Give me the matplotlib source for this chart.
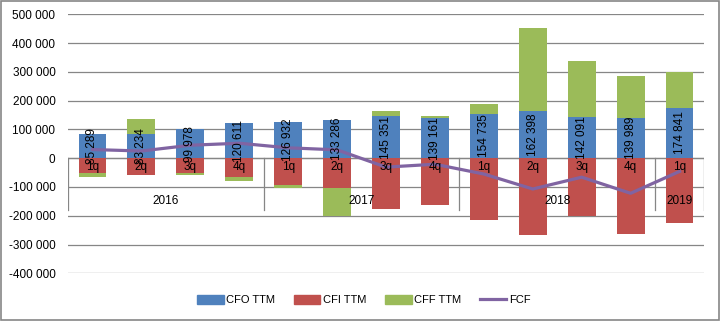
import matplotlib.pyplot as plt
import numpy as np
from matplotlib.patches import Rectangle
from matplotlib.lines import Line2D
from matplotlib.ticker import FuncFormatter

plt.rcParams['font.family'] = ['Liberation Sans', 'DejaVu Sans']

quarters = ['1q', '2q', '3q', '4q', '1q', '2q', '3q', '4q', '1q', '2q', '3q', '4q', '1q']
years = ['2016', '2017', '2018', '2019']
year_len = [4, 4, 4, 1]

cfo = [85289, 83234, 99978, 120611, 126932, 133286, 145351, 139161, 154735, 162398, 142091, 139989, 174841]
cfi = [-51000, -58000, -53000, -67000, -93000, -102000, -176000, -162000, -214000, -266000, -200000, -263000, -224000]
cff = [-13000, 53000, -7000, -12000, -9000, -98000, 19000, 8000, 34000, 290000, 196000, 146000, 125000]
fcf = [30000, 25000, 45000, 52000, 36000, 29000, -31000, -21000, -55000, -107000, -66000, -122000, -46000]

blue, red, green, purple = '#4F81BD', '#C0504D', '#9BBB59', '#8064A2'
grid_c = '#868686'

fig = plt.figure(figsize=(7.2, 3.21), dpi=100)
ax = fig.add_axes([68/720, 1-273.3/321, (704-68)/720, (273.3-14.3)/321])

x = np.arange(len(cfo))
cfo_a, cfi_a, cff_a = np.array(cfo), np.array(cfi), np.array(cff)
cff_bottom = np.where(cff_a >= 0, cfo_a, cfi_a)
w = 0.57
ax.bar(x, cfo_a, w, color=blue, zorder=2)
ax.bar(x, cfi_a, w, color=red, zorder=2)
ax.bar(x, cff_a, w, bottom=cff_bottom, color=green, zorder=2)
ax.plot(x, fcf, color=purple, lw=2.3, zorder=4, solid_joinstyle='round')

for xi, v in zip(x, cfo):
    ax.text(xi, v/2, f'{v:,}'.replace(',', ' '), rotation=90, ha='center', va='center',
            fontsize=8.5, zorder=5)

ax.set_xlim(-0.5, len(cfo) - 0.5)
ax.set_ylim(-400000, 500000)
ax.set_yticks(np.arange(-400000, 500001, 100000))
ax.yaxis.set_major_formatter(FuncFormatter(lambda v, p: f'{int(v):,}'.replace(',', ' ')))
ax.tick_params(axis='y', length=0, pad=9, labelsize=8.5)
ax.set_xticks([])
for s in ax.spines.values():
    s.set_visible(False)
ax.yaxis.grid(True, color=grid_c, lw=0.9)
ax.set_axisbelow(True)
ax.axhline(0, color=grid_c, lw=0.9, zorder=1)

# multi-level category axis
for xi, q in zip(x, quarters):
    ax.text(xi, -30000, q, ha='center', va='center', fontsize=8.5, zorder=5)
start = -0.5
sep_low = -180000
ax.plot([start, start], [0, sep_low], color=grid_c, lw=0.9, zorder=1)
for yr, n in zip(years, year_len):
    end = start + n
    ax.plot([end, end], [0, sep_low], color=grid_c, lw=0.9, zorder=1)
    ax.text((start + end) / 2, -150000, yr, ha='center', va='center', fontsize=8.5, zorder=5)
    start = end

handles = [Rectangle((0, 0), 1, 1, color=blue), Rectangle((0, 0), 1, 1, color=red),
           Rectangle((0, 0), 1, 1, color=green), Line2D([], [], color=purple, lw=2.3)]
fig.legend(handles, ['CFO TTM', 'CFI TTM', 'CFF TTM', 'FCF'], loc='center',
           bbox_to_anchor=(0.505, 0.065), ncol=4, frameon=False, fontsize=8,
           handlelength=2.4, handleheight=0.8, handletextpad=0.2, columnspacing=1.7)

fig.patches.append(Rectangle((0.001, 0.002), 0.998, 0.996, transform=fig.transFigure,
                             fill=False, edgecolor=grid_c, lw=1.2))

fig.savefig('out.png', dpi=100)
